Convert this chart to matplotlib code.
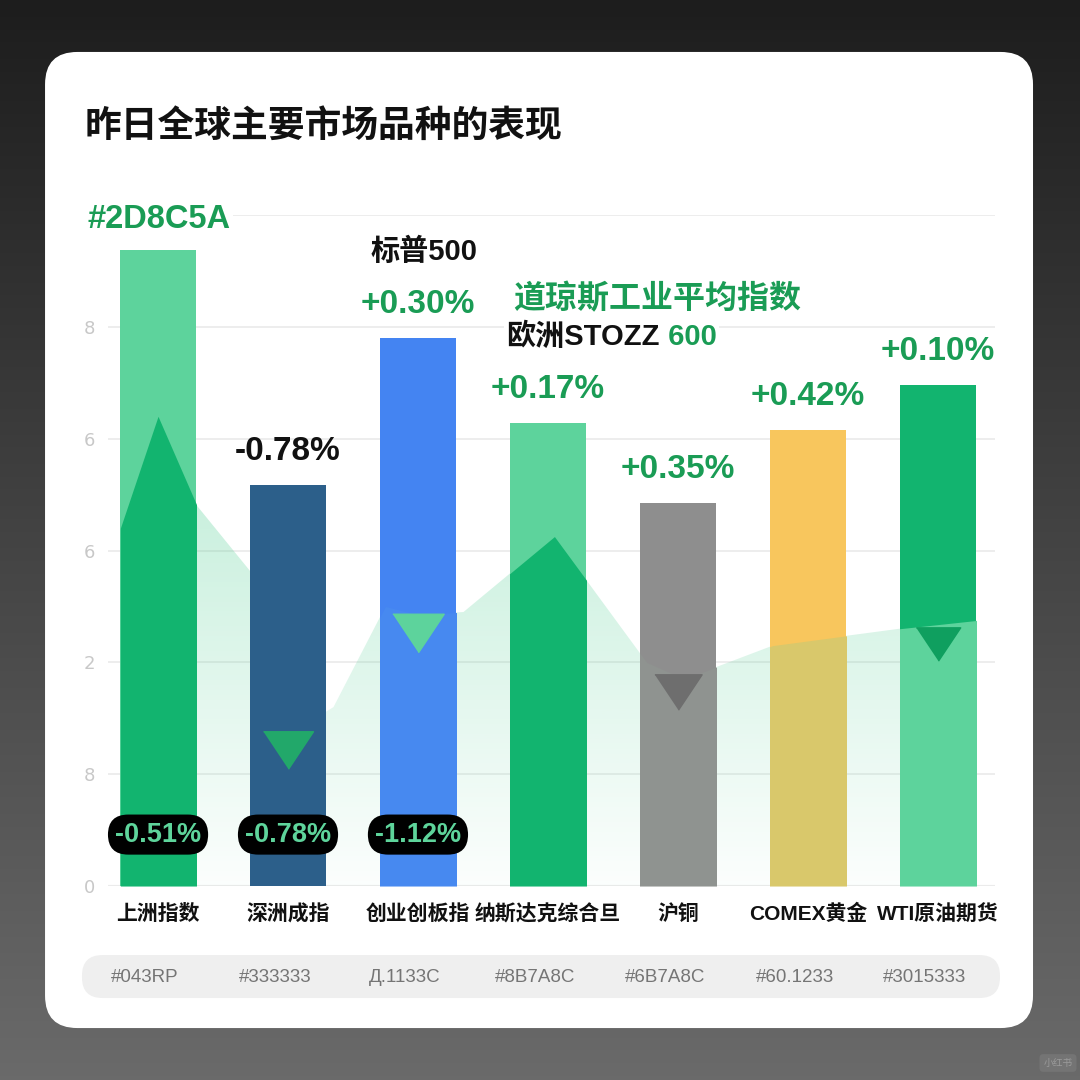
import numpy as np
import matplotlib
matplotlib.use("Agg")
import matplotlib.pyplot as plt
from matplotlib.patches import FancyBboxPatch
from matplotlib.colors import LinearSegmentedColormap
from matplotlib.transforms import blended_transform_factory

plt.rcParams['font.family'] = ['Liberation Sans', 'Noto Sans CJK SC', 'DejaVu Sans']

# ---- data ----
title = "昨日全球主要市场品种的表现"
categories = ["上洲指数", "深洲成指", "创业创板指", "纳斯达克综合旦", "沪铜", "COMEX黄金", "WTI原油期货"]
values = [11.38, 7.17, 9.80, 8.28, 6.85, 8.16, 8.96]
change_labels = [None, "-0.78%", "+0.30%", "+0.17%", "+0.35%", "+0.42%", "+0.10%"]
pill_labels = ["-0.51%", "-0.78%", "-1.12%"]
code_labels = ["#043RP", "#333333", "Д.1133C", "#8B7A8C", "#6B7A8C", "#60.1233", "#3015333"]
ytick_vals = [0, 2, 4, 6, 8, 10, 12]
ytick_labels = ["0", "8", "2", "6", "6", "8", ""]
trend_x = [-0.29, 0, 0.3, 0.72, 1.0, 1.35, 1.75, 2.0, 2.35, 3.05, 3.35, 3.76, 4.05, 4.73, 5.7, 6.3]
trend_y = [6.4, 8.4, 6.8, 5.6, 2.7, 3.2, 5.0, 4.85, 4.9, 6.25, 5.3, 4.0, 3.7, 4.3, 4.6, 4.75]
marker_idx = [1, 2, 4, 6]
marker_y = [2.43, 4.53, 3.47, 4.33]

# ---- styles ----
bar_colors = ["#5dd39c", "#2c5f8a", "#4484f2", "#5dd39c", "#8e8e8e", "#f8c65d", "#12b46f"]
under_colors = ["#12b46f", None, "#4789f0", "#12b46f", "#8f9390", "#d9c86b", "#5dd39c"]
marker_colors = ["#22a86a", "#5dd39c", "#6e6e6e", "#0f9f5f"]
marker_sizes = [36, 37, 34, 32]
green = "#1a9c55"

fig = plt.figure(figsize=(10.8, 10.8), dpi=100)

# background + card
bg = fig.add_axes([0, 0, 1, 1])
bg.set_axis_off()
grad_bg = np.linspace(0, 1, 256).reshape(-1, 1)
bg_cmap = LinearSegmentedColormap.from_list('bg', ["#6a6a6a", "#1d1d1d"])
bg.imshow(grad_bg, extent=[0, 1, 0, 1], origin='lower', aspect='auto', cmap=bg_cmap)
bg.set_xlim(0, 1)
bg.set_ylim(0, 1)
bg.add_patch(FancyBboxPatch((0.0417, 0.0481), 0.9148, 0.9038,
                            boxstyle="round,pad=0,rounding_size=0.03",
                            fc="white", ec="none", transform=bg.transAxes))
bg.add_patch(FancyBboxPatch((0.0759, 0.0759), 0.85, 0.0398,
                            boxstyle="round,pad=0,rounding_size=0.019",
                            fc="#efefef", ec="none", transform=bg.transAxes))

ax = fig.add_axes([0.1, 0.1796, 0.8213, 0.6213])
ax.patch.set_alpha(0)
x = np.arange(len(categories))

# faded area behind bars
area = ax.fill_between(trend_x, trend_y, 0, color='none', lw=0, zorder=1)
grad = np.linspace(0, 1, 256).reshape(-1, 1)
area_cmap = LinearSegmentedColormap.from_list(
    'area', [(0.36, 0.82, 0.6, 0.02), (0.36, 0.82, 0.6, 0.40)])
im = ax.imshow(grad, extent=[-0.4, 6.45, 0, 8.5], origin='lower', aspect='auto',
               cmap=area_cmap, zorder=1)
im.set_clip_path(area.get_paths()[0], transform=ax.transData)

bars = ax.bar(x, values, width=0.585, color=bar_colors, zorder=2)
for i, rect in enumerate(bars):
    if under_colors[i] is None:
        continue
    fb = ax.fill_between(trend_x, trend_y, 0, color=under_colors[i], lw=0, zorder=3)
    fb.set_clip_path(rect)

tri = [(-1, 0.75), (1, 0.75), (0, -0.75)]
for k, i in enumerate(marker_idx):
    ax.plot(i, marker_y[k], marker=tri, markersize=marker_sizes[k],
            color=marker_colors[k], lw=0, zorder=4)

# change labels above bars
for i, lbl in enumerate(change_labels):
    if lbl is None:
        continue
    ax.annotate(lbl, (i, values[i]), xytext=(0, 24), textcoords='offset points',
                ha='center', va='center', fontsize=24, weight='bold',
                color='#111111' if lbl.startswith('-') else green, zorder=6)

# black pills near the bottom
for i, lbl in enumerate(pill_labels):
    ax.text(i, 0.92, lbl, ha='center', va='center', fontsize=19.5, weight='bold',
            color='#5ed49b', zorder=7,
            bbox=dict(boxstyle='round,pad=0.26,rounding_size=0.75', fc='black', ec='none'))

ax.set_xlim(-0.385, 6.44)
ax.set_ylim(0, 12)
ax.set_yticks(ytick_vals, ytick_labels)
ax.set_xticks(x, categories)
ax.tick_params(axis='y', length=0, pad=9, labelsize=13, labelcolor='#c8c8c8')
ax.tick_params(axis='x', length=0, pad=13, labelsize=15)
for t in ax.get_xticklabels():
    t.set_fontweight('bold')
    t.set_color('#111111')
for t in ax.get_yticklabels():
    t.set_family('DejaVu Sans')
for s in ax.spines.values():
    s.set_visible(False)
ax.set_axisbelow(True)
ax.yaxis.grid(True, color='#ececec', lw=1.3)
ax.axhline(0, color='#e2e2e2', lw=1.5, zorder=0.5)

# floating header texts
fig.text(85 / 1080, 1 - 127 / 1080, title, fontsize=26.5, weight='bold', color='#111111',
         ha='left', va='center')
fig.text(87 / 1080, 1 - 220 / 1080, "#2D8C5A", fontsize=23.5, weight='bold', color=green,
         ha='left', va='center', bbox=dict(boxstyle='square,pad=0.1', fc='white', ec='none'))
fig.text(424 / 1080, 1 - 252 / 1080, "标普500", fontsize=21, weight='bold', color='#111111',
         ha='center', va='center')
fig.text(513 / 1080, 1 - 300 / 1080, "道琼斯工业平均指数", fontsize=23, weight='bold', color=green,
         ha='left', va='center')
eu = fig.text(506 / 1080, 1 - 337 / 1080, "欧洲STOZZ", fontsize=21, weight='bold', color='#111111',
              ha='left', va='center', bbox=dict(boxstyle='square,pad=0.08', fc='white', ec='none'))
ax.annotate(" 600", xy=(1, 0.5), xycoords=eu, ha='left', va='center', fontsize=21,
            weight='bold', color=green,
            bbox=dict(boxstyle='square,pad=0.08', fc='white', ec='none'))

# colour-code strip
trans = blended_transform_factory(ax.transData, fig.transFigure)
for i, lbl in enumerate(code_labels):
    ax.text(i - 0.1, 1 - 978 / 1080, lbl, transform=trans, ha='center', va='center',
            fontsize=13.5, color='#757575', clip_on=False)

fig.text(1058 / 1080, 1 - 1063 / 1080, "小红书", fontsize=7, color='#9a9a9a',
         ha='center', va='center',
         bbox=dict(boxstyle='round,pad=0.4', fc='#747474', ec='none'))

fig.savefig('out.png', dpi=100)
